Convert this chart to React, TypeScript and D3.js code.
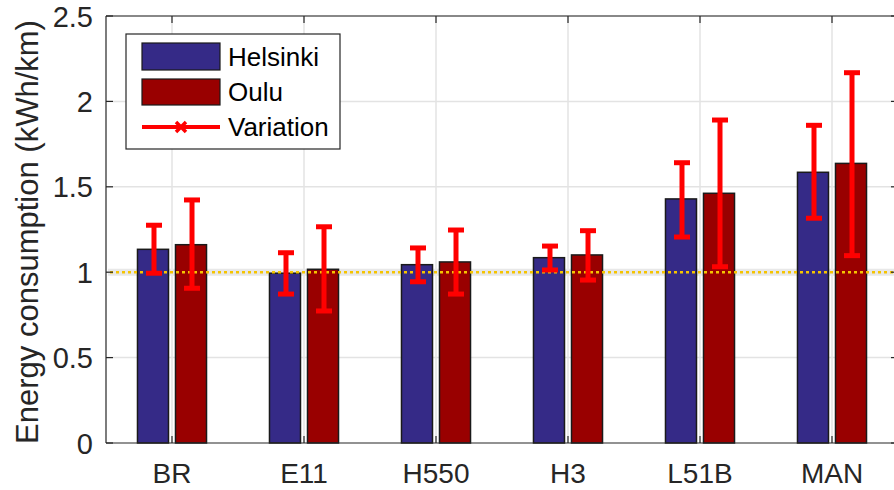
import React, { useEffect, useRef } from "react";
import * as d3 from "d3";

const categories = ["BR", "E11", "H550", "H3", "L51B", "MAN"];
const helsinki = [1.134, 0.994, 1.044, 1.085, 1.429, 1.585];
const oulu = [1.161, 1.017, 1.06, 1.101, 1.462, 1.637];
const helsinkiHigh = [1.275, 1.114, 1.142, 1.153, 1.641, 1.86];
const helsinkiLow = [0.994, 0.872, 0.944, 1.013, 1.206, 1.316];
const ouluHigh = [1.423, 1.266, 1.247, 1.243, 1.891, 2.168];
const ouluLow = [0.906, 0.773, 0.872, 0.954, 1.032, 1.097];
const yTicks = [0, 0.5, 1, 1.5, 2, 2.5];
const yTickLabels = ["0", "0.5", "1", "1.5", "2", "2.5"];
const legendLabels = ["Helsinki", "Oulu", "Variation"];
const referenceValue = 1;

const FONT = "'Liberation Sans', Arial, sans-serif";
const AXIS = "#262626";

export default function App() {
  const ref = useRef<SVGSVGElement>(null);

  useEffect(() => {
    const width = 894;
    const height = 490;
    const left = 106, right = 898, top = 16, bottom = 443;

    const svg = d3.select(ref.current).attr("width", width).attr("height", height);
    svg.selectAll("*").remove();

    const x = d3.scaleLinear().domain([0.5, categories.length + 0.5]).range([left, right]);
    const y = d3.scaleLinear().domain([0, 2.5]).range([bottom, top]);

    const offset = 0.144;
    const barW = x(0.235) - x(0);

    // grid
    const grid = svg.append("g");
    grid.selectAll(".gy").data(yTicks.slice(1)).join("line")
      .attr("x1", left).attr("x2", right)
      .attr("y1", d => y(d)).attr("y2", d => y(d))
      .attr("stroke", "#e3e3e3").attr("stroke-width", 1.5);
    grid.selectAll(".gx").data(categories).join("line")
      .attr("x1", (d, i) => x(i + 1)).attr("x2", (d, i) => x(i + 1))
      .attr("y1", top).attr("y2", bottom)
      .attr("stroke", "#e3e3e3").attr("stroke-width", 1.5);

    // soft band behind the reference line
    svg.append("line")
      .attr("x1", left + 2).attr("x2", right)
      .attr("y1", y(referenceValue)).attr("y2", y(referenceValue))
      .attr("stroke", "#e8e8e8").attr("stroke-width", 7);

    // bars
    const series = [
      { vals: helsinki, hi: helsinkiHigh, lo: helsinkiLow, color: "#352a87", dx: -offset },
      { vals: oulu, hi: ouluHigh, lo: ouluLow, color: "#990000", dx: offset },
    ];
    series.forEach(s => {
      svg.append("g").selectAll("rect").data(s.vals).join("rect")
        .attr("x", (d, i) => x(i + 1 + s.dx) - barW / 2)
        .attr("width", barW)
        .attr("y", d => y(d))
        .attr("height", d => bottom - y(d))
        .attr("fill", s.color)
        .attr("stroke", "#1a1a1a").attr("stroke-width", 1.5);
    });

    // dotted reference line
    svg.append("line")
      .attr("x1", left + 4).attr("x2", right)
      .attr("y1", y(referenceValue)).attr("y2", y(referenceValue))
      .attr("stroke", "#f5c400").attr("stroke-width", 2.5)
      .attr("stroke-dasharray", "3,3");

    // error bars
    const capW = 16;
    series.forEach(s => {
      const g = svg.append("g").attr("stroke", "#ff0000").attr("stroke-width", 5);
      s.vals.forEach((v, i) => {
        const cx = x(i + 1 + s.dx) + 1;
        g.append("line").attr("x1", cx).attr("x2", cx).attr("y1", y(s.hi[i])).attr("y2", y(s.lo[i]));
        g.append("line").attr("x1", cx - capW / 2).attr("x2", cx + capW / 2).attr("y1", y(s.hi[i])).attr("y2", y(s.hi[i]));
        g.append("line").attr("x1", cx - capW / 2).attr("x2", cx + capW / 2).attr("y1", y(s.lo[i])).attr("y2", y(s.lo[i]));
      });
    });

    // axes box
    const ax = svg.append("g").attr("stroke", AXIS).attr("stroke-width", 1.2);
    ax.append("line").attr("x1", left).attr("x2", right).attr("y1", top).attr("y2", top);
    ax.append("line").attr("x1", left).attr("x2", right).attr("y1", bottom).attr("y2", bottom);
    ax.append("line").attr("x1", left).attr("x2", left).attr("y1", top).attr("y2", bottom);
    ax.append("line").attr("x1", right).attr("x2", right).attr("y1", top).attr("y2", bottom);
    const tl = 7;
    yTicks.forEach(t => {
      ax.append("line").attr("x1", left).attr("x2", left + tl).attr("y1", y(t)).attr("y2", y(t));
      ax.append("line").attr("x1", right).attr("x2", right - tl).attr("y1", y(t)).attr("y2", y(t));
    });
    categories.forEach((c, i) => {
      ax.append("line").attr("x1", x(i + 1)).attr("x2", x(i + 1)).attr("y1", bottom).attr("y2", bottom - tl);
      ax.append("line").attr("x1", x(i + 1)).attr("x2", x(i + 1)).attr("y1", top).attr("y2", top + tl);
    });

    // tick labels
    svg.append("g").selectAll("text").data(yTicks).join("text")
      .attr("x", 93).attr("y", d => y(d) + 10.5)
      .attr("text-anchor", "end")
      .attr("font-family", FONT).attr("font-size", 29).attr("fill", AXIS)
      .text((d, i) => yTickLabels[i]);
    svg.append("g").selectAll("text").data(categories).join("text")
      .attr("x", (d, i) => x(i + 1)).attr("y", 483)
      .attr("text-anchor", "middle")
      .attr("font-family", FONT).attr("font-size", 28).attr("fill", AXIS)
      .text(d => d);

    // y label
    svg.append("text")
      .attr("transform", `translate(38, 232) rotate(-90)`)
      .attr("text-anchor", "middle")
      .attr("font-family", FONT).attr("font-size", 31).attr("fill", AXIS)
      .text("Energy consumption (kWh/km)");

    // legend
    const lg = svg.append("g");
    lg.append("rect").attr("x", 126).attr("y", 34).attr("width", 214).attr("height", 115)
      .attr("fill", "#fff").attr("stroke", AXIS).attr("stroke-width", 1.2);
    lg.append("rect").attr("x", 142).attr("y", 43).attr("width", 78).attr("height", 27)
      .attr("fill", "#352a87").attr("stroke", "#1a1a1a").attr("stroke-width", 1.2);
    lg.append("rect").attr("x", 142).attr("y", 79).attr("width", 78).attr("height", 26)
      .attr("fill", "#990000").attr("stroke", "#1a1a1a").attr("stroke-width", 1.2);
    lg.append("line").attr("x1", 142).attr("x2", 220).attr("y1", 127).attr("y2", 127)
      .attr("stroke", "#ff0000").attr("stroke-width", 4);
    lg.append("path").attr("d", "M176,122L186,132M176,132L186,122")
      .attr("stroke", "#ff0000").attr("stroke-width", 3.5);
    [57, 92, 127].forEach((ty, i) => {
      lg.append("text").attr("x", 228).attr("y", ty + 9)
        .attr("font-family", FONT).attr("font-size", 26).attr("fill", "#000")
        .text(legendLabels[i]);
    });
  }, []);

  return <svg ref={ref} style={{ position: "absolute", left: 0, top: 0 }} />;
}
